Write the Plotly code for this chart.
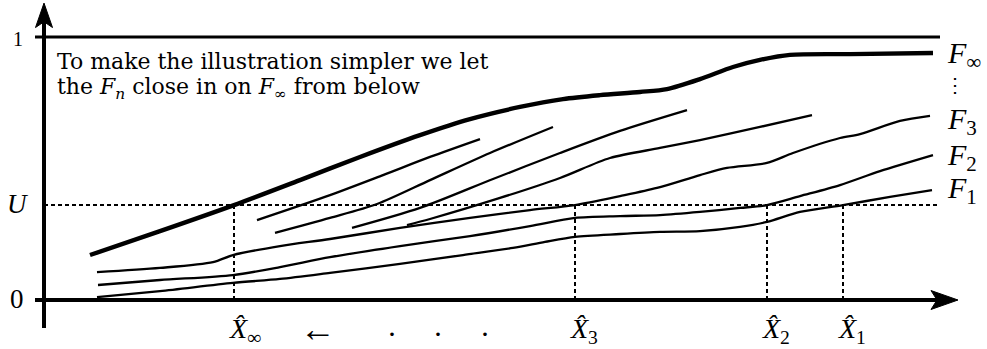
import plotly.graph_objects as go

# ---- data -------------------------------------------------------------
U = 0.361  # level at which the distribution functions are inverted

# limiting distribution F_inf (thick)
f_inf_x = [0.46, 1.16, 1.90, 2.56, 3.16, 3.76, 4.26, 4.76, 5.19, 5.56, 5.96,
           6.23, 6.56, 6.89, 7.16, 7.46, 8.06, 8.89]
f_inf_y = [0.171, 0.262, 0.361, 0.456, 0.544, 0.627, 0.688, 0.734, 0.764,
           0.779, 0.791, 0.802, 0.840, 0.886, 0.913, 0.932, 0.935, 0.939]

# F_3
f3_x = [0.53, 1.16, 1.69, 1.89, 2.36, 2.86, 3.56, 4.26, 4.86, 5.31, 5.76,
        6.13, 6.56, 6.83, 7.23, 7.49, 7.96, 8.16, 8.56, 8.86]
f3_y = [0.106, 0.122, 0.144, 0.171, 0.205, 0.232, 0.274, 0.312, 0.342, 0.361,
        0.395, 0.426, 0.475, 0.502, 0.521, 0.559, 0.616, 0.631, 0.681, 0.700]

# F_2
f2_x = [0.54, 1.16, 1.89, 2.36, 2.86, 3.56, 4.26, 4.86, 5.31, 5.76, 6.16,
        6.56, 6.96, 7.23, 7.56, 7.96, 8.36, 8.89]
f2_y = [0.057, 0.076, 0.095, 0.125, 0.163, 0.205, 0.243, 0.281, 0.312, 0.319,
        0.323, 0.335, 0.350, 0.361, 0.395, 0.437, 0.490, 0.551]

# F_1
f1_x = [0.53, 1.16, 1.89, 2.36, 2.86, 3.56, 4.19, 4.69, 5.01, 5.31, 5.76,
        6.16, 6.56, 6.96, 7.23, 7.56, 7.99, 8.46, 8.88]
f1_y = [0.011, 0.034, 0.065, 0.080, 0.103, 0.137, 0.171, 0.198, 0.221, 0.240,
        0.251, 0.259, 0.262, 0.278, 0.297, 0.335, 0.361, 0.392, 0.418]

# partial pieces of the intermediate F_n between F_3 and F_inf
s1_x = [2.13, 2.86, 3.39, 3.86, 4.36]
s1_y = [0.304, 0.399, 0.475, 0.544, 0.612]
s2_x = [2.31, 2.86, 3.33, 3.86, 4.46, 5.09]
s2_y = [0.255, 0.312, 0.365, 0.456, 0.559, 0.658]
s3_x = [3.08, 3.76, 4.49, 5.16, 5.76, 6.43]
s3_y = [0.274, 0.350, 0.460, 0.559, 0.643, 0.722]
s4_x = [3.63, 3.86, 4.56, 5.16, 5.66, 6.16, 6.56, 7.16, 7.68]
s4_y = [0.285, 0.308, 0.388, 0.464, 0.540, 0.578, 0.608, 0.658, 0.703]

# quantiles X_hat where each F crosses U
hat_names = ["∞", "3", "2", "1"]
hat_x = [1.90, 5.31, 7.23, 7.99]

curve_labels = ["∞", "3", "2", "1"]
curve_label_y = [0.932, 0.680, 0.544, 0.418]

note_lines = ["To make the illustration simpler we let",
              "the <i>F</i><sub><i>n</i></sub> close in on <i>F</i><sub>∞</sub> from below"]

# ---- figure -----------------------------------------------------------
X0, X1 = -0.44, 9.43
Y0, Y1 = -0.1863, 1.1407
FONT = "Liberation Serif"
NOTE_FONT = "DejaVu Serif"
INK = "black"

fig = go.Figure()

def curve(xs, ys, w):
    fig.add_trace(go.Scatter(x=xs, y=ys, mode="lines",
                             line=dict(color=INK, width=w, shape="spline",
                                       smoothing=0.8),
                             hoverinfo="skip", showlegend=False))

curve(f_inf_x, f_inf_y, 4.4)
for xs, ys in [(f3_x, f3_y), (f2_x, f2_y), (f1_x, f1_y),
               (s1_x, s1_y), (s2_x, s2_y), (s3_x, s3_y), (s4_x, s4_y)]:
    curve(xs, ys, 2.3)

shapes = []
# level U and the drops to the quantiles
shapes.append(dict(type="line", x0=0, x1=8.96, y0=U, y1=U,
                   line=dict(color=INK, width=2, dash="4px,3px")))
for xv in hat_x:
    shapes.append(dict(type="line", x0=xv, x1=xv, y0=0, y1=U,
                       line=dict(color=INK, width=2, dash="4px,3px")))
# line at height 1
shapes.append(dict(type="line", x0=-0.09, x1=8.96, y0=1.0, y1=1.0,
                   line=dict(color=INK, width=3)))
# axes
shapes.append(dict(type="line", x0=0, x1=0, y0=-0.106, y1=1.07,
                   line=dict(color=INK, width=4)))
shapes.append(dict(type="line", x0=-0.09, x1=8.95, y0=0, y1=0,
                   line=dict(color=INK, width=4)))
# arrow heads
shapes.append(dict(type="path",
                   path="M 0,1.129 L -0.085,1.036 L 0,1.058 L 0.085,1.036 Z",
                   fillcolor=INK, line=dict(color=INK, width=1)))
shapes.append(dict(type="path",
                   path="M 9.14,0 L 8.87,-0.036 L 8.93,0 L 8.87,0.036 Z",
                   fillcolor=INK, line=dict(color=INK, width=1)))

ann = []

def text(x, y, s, size, xanchor="center", yanchor="middle", family=FONT):
    ann.append(dict(x=x, y=y, text=s, showarrow=False, xanchor=xanchor,
                    yanchor=yanchor, font=dict(family=family, size=size, color=INK)))

text(-0.26, 0.992, "1", 20)
text(-0.27, 0.365, "<i>U</i>", 27)
text(-0.27, 0.004, "0", 27)

text(0.11, 0.905, note_lines[0], 22, xanchor="left", family=NOTE_FONT)
text(0.11, 0.806, note_lines[1], 22, xanchor="left", family=NOTE_FONT)

for name, yv in zip(curve_labels, curve_label_y):
    text(9.01, yv, "<i>F</i><sub>" + name + "</sub>", 30, xanchor="left")
text(9.11, 0.817, "⋮", 20)

for name, xv in zip(hat_names, hat_x):
    text(xv - 0.07, -0.115, "<i>X̂</i><sub>" + name + "</sub>", 28, xanchor="left")
text(2.74, -0.110, "←", 36)
for xv in [3.48, 3.94, 4.41]:
    text(xv, -0.128, "·", 30)

fig.update_layout(
    width=987, height=349,
    margin=dict(l=0, r=0, t=0, b=0),
    paper_bgcolor="white", plot_bgcolor="white",
    xaxis=dict(range=[X0, X1], visible=False, fixedrange=True),
    yaxis=dict(range=[Y0, Y1], visible=False, fixedrange=True),
    shapes=shapes, annotations=ann, showlegend=False,
)

fig.write_html("out.html")
